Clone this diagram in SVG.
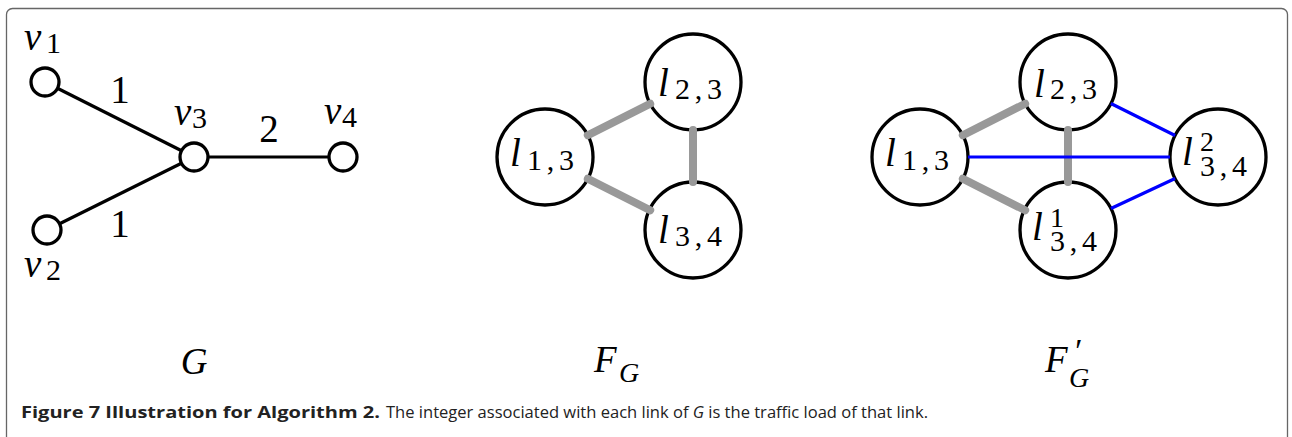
<svg xmlns="http://www.w3.org/2000/svg" width="1292" height="437" viewBox="0 0 1292 437">
<style>
.node{fill:#fff;stroke:#000;stroke-width:3.3}
.math{font-family:"Liberation Serif","Times New Roman",serif;fill:#000}
.it{font-style:italic}
.big{font-size:39px}
.sub{font-size:30px}
.sup{font-size:28px}
.edge{stroke:#000;stroke-width:3.2;fill:none}
.gray{stroke:#999;stroke-width:8;stroke-linecap:round;fill:none}
.blue{stroke:#0000ff;stroke-width:3.2;fill:none}
.cap{font-family:"Open Sans","Noto Sans","Liberation Sans",sans-serif;font-size:16px;fill:#222}
</style>
<rect x="6.5" y="8.5" width="1281" height="450" rx="6" fill="#fff" stroke="#666" stroke-width="1.3"/>

<g id="connectors-G">
<line class="edge" x1="45" y1="82" x2="194" y2="157"/>
<line class="edge" x1="47" y1="230" x2="194" y2="157"/>
<line class="edge" x1="194" y1="157" x2="343" y2="157"/>
</g>
<g id="v1"><circle class="node" cx="45" cy="82" r="14"/><text class="math it big" x="24" y="50">v</text><text class="math sub" x="46" y="53">1</text></g>
<g id="v2"><circle class="node" cx="47" cy="230" r="14"/><text class="math it big" x="24" y="277">v</text><text class="math sub" x="46" y="280">2</text></g>
<g id="v3"><circle class="node" cx="194" cy="157" r="14"/><text class="math it big" x="174" y="125">v</text><text class="math sub" x="192" y="128">3</text></g>
<g id="v4"><circle class="node" cx="343" cy="157" r="14"/><text class="math it big" x="324" y="124">v</text><text class="math sub" x="342" y="127">4</text></g>
<g id="edge-labels-G" class="math big" text-anchor="middle">
<text x="120" y="103">1</text>
<text x="120" y="237">1</text>
<text x="269" y="142">2</text>
</g>

<g id="FG-l13"><circle class="node" cx="545" cy="157" r="48"/><text class="math it big" x="510" y="166">l</text><text class="math sub" x="527" y="170" textLength="47">1,3</text></g>
<g id="FG-l23"><circle class="node" cx="693" cy="82" r="48"/><text class="math it big" x="658" y="96">l</text><text class="math sub" x="675" y="99" textLength="47">2,3</text></g>
<g id="FG-l34"><circle class="node" cx="693" cy="230" r="48"/><text class="math it big" x="658" y="243">l</text><text class="math sub" x="675" y="246" textLength="47">3,4</text></g>

<g id="FpG-l13"><circle class="node" cx="920" cy="157" r="48"/><text class="math it big" x="885" y="166">l</text><text class="math sub" x="902" y="170" textLength="47">1,3</text></g>
<g id="FpG-l23"><circle class="node" cx="1068" cy="82" r="48"/><text class="math it big" x="1034" y="97">l</text><text class="math sub" x="1050" y="99" textLength="47">2,3</text></g>
<g id="FpG-l34-1"><circle class="node" cx="1068" cy="230" r="48"/><text class="math it big" x="1032" y="240">l</text><text class="math sup" x="1050" y="227">1</text><text class="math sub" x="1050" y="251" textLength="47">3,4</text></g>
<g id="FpG-l34-2"><circle class="node" cx="1218" cy="157" r="48"/><text class="math it big" x="1182" y="165">l</text><text class="math sup" x="1200" y="151">2</text><text class="math sub" x="1200" y="176" textLength="47">3,4</text></g>

<g id="connectors-F">
<line class="gray" x1="587.8" y1="135.3" x2="650.2" y2="103.7"/>
<line class="gray" x1="587.8" y1="178.7" x2="650.2" y2="210.3"/>
<line class="gray" x1="693" y1="130" x2="693" y2="182"/>
<line class="gray" x1="962.8" y1="135.3" x2="1025.2" y2="103.7"/>
<line class="gray" x1="962.8" y1="178.7" x2="1025.2" y2="210.3"/>
<line class="gray" x1="1068" y1="130" x2="1068" y2="182"/>
<line class="blue" x1="968" y1="157" x2="1170" y2="157"/>
<line class="blue" x1="1110.9" y1="103.5" x2="1175.1" y2="135.5"/>
<line class="blue" x1="1110.9" y1="208.5" x2="1175.1" y2="178.5"/>
</g>

<g id="labels" class="math it">
<text x="194" y="374" font-size="37" text-anchor="middle">G</text>
<text x="594" y="372" font-size="37">F</text><text x="619" y="382" font-size="28">G</text>
<text x="1045" y="372" font-size="37">F</text><text x="1073" y="362" font-size="34">′</text><text x="1069" y="387" font-size="28">G</text>
</g>

<g id="caption">
<text class="cap" x="21" y="418" font-weight="bold" textLength="359" lengthAdjust="spacingAndGlyphs">Figure 7 Illustration for Algorithm 2.</text>
<text class="cap" x="386" y="418" textLength="542" lengthAdjust="spacingAndGlyphs">The integer associated with each link of <tspan font-style="italic">G</tspan> is the traffic load of that link.</text>
</g>
</svg>
